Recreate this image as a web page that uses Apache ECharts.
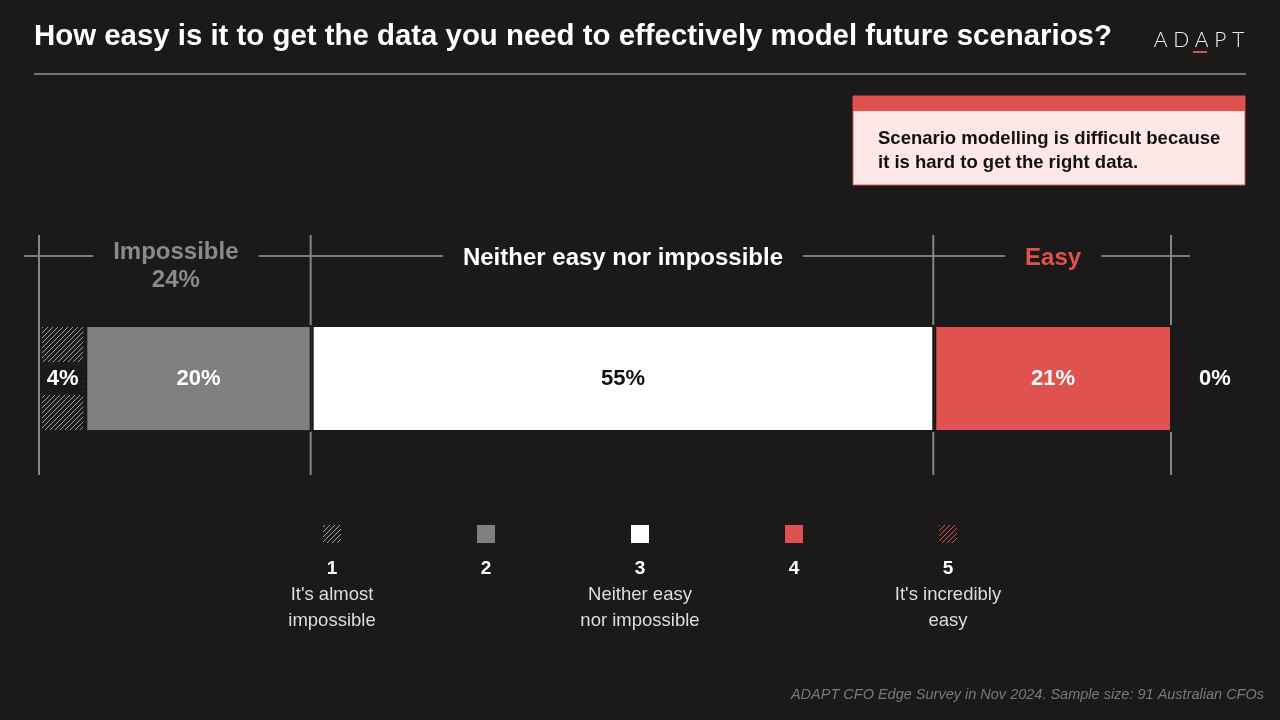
<!DOCTYPE html>
<html>
<head>
<meta charset="utf-8">
<script src="https://cdn.jsdelivr.net/npm/echarts@6/dist/echarts.min.js"></script>
<style>
  html, body { margin: 0; padding: 0; background: #1b1919; }
  #main { width: 1280px; height: 720px; }
</style>
</head>
<body>
<div id="main"></div>
<script>
// data
const categories = ['1', '2', '3', '4', '5'];
const descriptions = ["It's almost\nimpossible", '', 'Neither easy\nnor impossible', '', "It's incredibly\neasy"];
const values = [4, 20, 55, 21, 0];
const groupNames = ['Impossible\n24%', 'Neither easy nor impossible', 'Easy'];
const groupMembers = [[0, 1], [2], [3, 4]];

const BG = '#1b1919';
const RED = '#e0524f';

// hatch pattern for the two extreme answers
function hatch(line, bg) {
  const c = document.createElement('canvas');
  c.width = c.height = 5;
  const g = c.getContext('2d');
  g.fillStyle = bg;
  g.fillRect(0, 0, 5, 5);
  g.fillStyle = line;
  // one pixel per row, stepping up to the right: "////"
  for (let y = 0; y < 5; y++) g.fillRect(4 - y, y, 1, 1);
  return {image: c, repeat: 'repeat'};
}

const colors = [hatch('#a0a0a0', BG), '#808080', '#ffffff', RED, hatch(RED, BG)];
const labelColors = ['#fff', '#fff', '#111', '#fff', '#fff'];

const chart = echarts.init(document.getElementById('main'));

const series = values.map((v, i) => ({
  name: categories[i],
  type: 'bar',
  stack: 'all',
  barWidth: '100%',
  data: [v],
  itemStyle: {color: colors[i], borderColor: BG, borderWidth: 2},
  label: {
    show: true,
    position: v === 0 ? 'right' : 'inside',
    distance: 42,
    formatter: v + '%',
    color: labelColors[i],
    fontFamily: 'Liberation Sans',
    fontWeight: 'bold',
    fontSize: 22,
    backgroundColor: i === 0 ? BG : 'transparent',
    width: i === 0 ? 41 : undefined,
    height: i === 0 ? 33 : undefined,
    lineHeight: i === 0 ? 33 : undefined,
    align: 'center'
  },
  emphasis: {disabled: true}
}));

chart.setOption({
  backgroundColor: BG,
  animation: false,
  grid: {left: 40, right: 108, top: 325, height: 107},
  xAxis: {type: 'value', min: 0, max: 100, show: false},
  yAxis: {type: 'category', data: ['all'], show: false},
  series: series
});

// annotations placed from the data through the axis
const px = v => chart.convertToPixel({xAxisIndex: 0}, v);
const cum = [0];
values.forEach(v => cum.push(cum[cum.length - 1] + v));

const graphics = [];
const txt = (x, y, text, o) => graphics.push({
  type: 'text', x, y, z: 10,
  style: Object.assign({text, fontFamily: 'Liberation Sans', fill: '#fff', fontSize: 17}, o)
});

// title + rule
txt(34, 37, 'How easy is it to get the data you need to effectively model future scenarios?',
  {fontSize: 29.4, fontWeight: 'bold', verticalAlign: 'middle'});
graphics.push({type: 'line', shape: {x1: 34, y1: 74, x2: 1246, y2: 74}, style: {stroke: '#cfcfcf', lineWidth: 1}});

// logo
txt(1199, 40, 'A D A P T', {fontSize: 21, fontWeight: 300, align: 'center', verticalAlign: 'middle', fill: '#f2f2f2', fontFamily: 'Lato'});
graphics.push({type: 'line', shape: {x1: 1193, y1: 52, x2: 1207, y2: 52}, style: {stroke: RED, lineWidth: 2}});

// callout
graphics.push({type: 'rect', shape: {x: 853, y: 96, width: 392, height: 89}, style: {fill: '#fde8e7', stroke: RED, lineWidth: 1}});
graphics.push({type: 'rect', shape: {x: 853, y: 96, width: 392, height: 15}, style: {fill: RED}});
txt(878, 151, 'Scenario modelling is difficult because\nit is hard to get the right data.',
  {fill: '#111', fontWeight: 'bold', fontSize: 18.5, lineHeight: 24, verticalAlign: 'middle'});

// group brackets
const bounds = [0];
groupMembers.forEach(m => bounds.push(cum[m[m.length - 1] + 1]));
graphics.push({type: 'line', z: 1, shape: {x1: 24, y1: 256, x2: 1190, y2: 256}, style: {stroke: '#7a7a7a', lineWidth: 2}});
bounds.forEach(b => graphics.push({
  type: 'line', z: 1, shape: {x1: px(b) - 1, y1: 235, x2: px(b) - 1, y2: 475}, style: {stroke: '#858585', lineWidth: 2}
}));
const groupColors = ['#8a8a8a', '#ffffff', RED];
groupNames.forEach((name, i) => {
  const mid = (px(bounds[i]) + px(bounds[i + 1])) / 2;
  const multi = name.indexOf('\n') >= 0;
  graphics.push({
    type: 'text', x: mid, y: multi ? 238 : 244, z: 5,
    style: {
      text: name, fontFamily: 'Liberation Sans', fontWeight: 'bold', fontSize: 24, lineHeight: 28,
      fill: groupColors[i], align: 'center', verticalAlign: 'top',
      backgroundColor: BG, padding: [0, 20, 0, 20]
    }
  });
});

// legend
const legendX0 = 332, legendStep = 154;
categories.forEach((c, i) => {
  const x = legendX0 + i * legendStep;
  graphics.push({type: 'rect', shape: {x: x - 9, y: 525, width: 18, height: 18}, style: {fill: colors[i]}});
  txt(x, 569, c, {fontWeight: 'bold', fontSize: 19, align: 'center', verticalAlign: 'middle'});
  if (descriptions[i]) {
    txt(x, 582, descriptions[i], {fontSize: 18.5, lineHeight: 26, align: 'center', verticalAlign: 'top', fill: '#dddddd'});
  }
});

// source
txt(1264, 695, 'ADAPT CFO Edge Survey in Nov 2024. Sample size: 91 Australian CFOs',
  {fontSize: 14.5, fontStyle: 'italic', fill: '#7a7a7a', align: 'right', verticalAlign: 'middle'});

chart.setOption({graphic: graphics});
</script>
</body>
</html>
